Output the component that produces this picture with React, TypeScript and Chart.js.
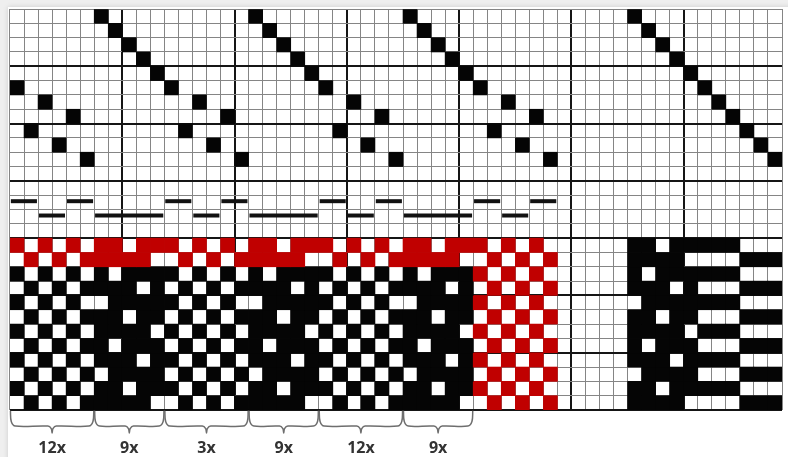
import React, { useEffect, useRef } from "react";
import { Chart, registerables } from "chart.js";

Chart.register(...registerables);

const NUM_COLS = 55;
const NUM_ROWS = 28;

// Threading: row of the filled square for warp columns 0..38
const THREADING = [
  5, 8, 6, 9, 7, 10, 0, 1, 2, 3, 4, 5, 8, 6, 9, 7, 10, 0, 1, 2, 3, 4,
  5, 8, 6, 9, 7, 10, 0, 1, 2, 3, 4, 5, 8, 6, 9, 7, 10,
];

// Tie-up diagonal on the right: first column and row for each column
const TIEUP_FIRST_COL = 44;
const TIEUP_ROWS = [0, 1, 2, 3, 4, 5, 6, 7, 8, 9, 10];

// Drawdown (columns 0..38), rows 16..27. X = black, R = red, . = white
const DRAWDOWN_FIRST_ROW = 16;
const DRAWDOWN = [
  "R.R.R. RR.RR R.R.R. RR.RR R.R.R. RR.RR R.R.R.",
  ".R.R.R RRRR. .R.R.R RRRR. .R.R.R RRRR. .R.R.R",
  "X.X.X. X.XXX X.X.X. X.XXX X.X.X. X.XXX R.R.R.",
  ".X.X.X XXX.X .X.X.X XXX.X .X.X.X XXX.X .R.R.R",
  "X.X.X. .XXXX X.X.X. .XXXX X.X.X. .XXXX R.R.R.",
  ".X.X.X XX.XX .X.X.X XX.XX .X.X.X XX.XX .R.R.R",
  "X.X.X. XXXX. X.X.X. XXXX. X.X.X. XXXX. R.R.R.",
  ".X.X.X X.XXX .X.X.X X.XXX .X.X.X X.XXX .R.R.R",
  "X.X.X. XXX.X X.X.X. XXX.X X.X.X. XXX.X R.R.R.",
  ".X.X.X .XXXX .X.X.X .XXXX .X.X.X .XXXX .R.R.R",
  "X.X.X. XX.XX X.X.X. XX.XX X.X.X. XX.XX R.R.R.",
  ".X.X.X XXXX. .X.X.X XXXX. .X.X.X XXXX. .R.R.R",
];

// Lift plan (columns 44..54), rows 16..27
const LIFTPLAN_FIRST_COL = 44;
const LIFTPLAN = [
  "XX.XX XXX ...",
  "XXXX. ... XXX",
  "X.XXX XXX ...",
  "XXX.X ... XXX",
  ".XXXX XXX ...",
  "XX.XX ... XXX",
  "XXXX. XXX ...",
  "X.XXX ... XXX",
  "XXX.X XXX ...",
  ".XXXX ... XXX",
  "XX.XX XXX ...",
  "XXXX. ... XXX",
];

// Weft bars (rows 13/14), from column to column
const WEFT_ROW = [13, 14, 13, 14, 13, 14, 13, 14, 13, 14, 13, 14, 13, 14, 13];
const WEFT_FROM = [0, 2, 4, 6, 11, 13, 15, 17, 22, 24, 26, 28, 33, 35, 37];
const WEFT_TO = [2, 4, 6, 11, 13, 15, 17, 22, 24, 26, 28, 33, 35, 37, 39];

// Repeat brackets under the drawdown
const REPEAT_BOUNDS = [0, 6, 11, 17, 22, 28, 33];
const REPEAT_LABELS = ["12x", "9x", "3x", "9x", "12x", "9x"];

const BLACK = "#050505";
const RED = "#c00000";
const THIN = "#858585";
const BOLD = "#151515";

const COL_LABELS = Array.from({ length: NUM_COLS }, (_, i) => String(i));

function buildGrid(): (string | null)[][] {
  const grid: (string | null)[][] = Array.from({ length: NUM_ROWS }, () =>
    Array.from({ length: NUM_COLS }, () => null)
  );
  THREADING.forEach((r, c) => {
    grid[r][c] = "X";
  });
  TIEUP_ROWS.forEach((r, i) => {
    grid[r][TIEUP_FIRST_COL + i] = "X";
  });
  DRAWDOWN.forEach((s, i) => {
    const cells = s.replace(/\s/g, "");
    for (let c = 0; c < cells.length; c++) {
      if (cells[c] !== ".") grid[DRAWDOWN_FIRST_ROW + i][c] = cells[c];
    }
  });
  LIFTPLAN.forEach((s, i) => {
    const cells = s.replace(/\s/g, "");
    for (let c = 0; c < cells.length; c++) {
      if (cells[c] !== ".") grid[DRAWDOWN_FIRST_ROW + i][LIFTPLAN_FIRST_COL + c] = cells[c];
    }
  });
  return grid;
}

const labelPlugin = {
  id: "repeatLabels",
  afterDatasetsDraw(chart: any) {
    const xs = chart.scales.x2;
    const ys = chart.scales.y;
    const ctx = chart.ctx;
    ctx.save();
    ctx.font = 'bold 16px "Open Sans", sans-serif';
    ctx.fillStyle = "#333333";
    ctx.textAlign = "center";
    ctx.textBaseline = "middle";
    REPEAT_LABELS.forEach((label, i) => {
      const mid = (REPEAT_BOUNDS[i] + REPEAT_BOUNDS[i + 1]) / 2;
      ctx.fillText(label, xs.getPixelForValue(mid), ys.getPixelForValue(30.7));
    });
    ctx.restore();
  },
};

export default function App() {
  const ref = useRef<HTMLCanvasElement | null>(null);

  useEffect(() => {
    if (!ref.current) return;
    const grid = buildGrid();

    const cellSets: any[] = [];
    grid.forEach((row, r) => {
      if (row.every((c) => c === null)) return;
      cellSets.push({
        type: "bar",
        data: row.map((c) => (c ? [r, r + 1] : null)),
        backgroundColor: row.map((c) => (c === "R" ? RED : BLACK)),
        borderWidth: 0,
        grouped: false,
        categoryPercentage: 1,
        barPercentage: 1,
        xAxisID: "x",
        yAxisID: "y",
        order: 3,
      });
    });

    const weftSets = WEFT_ROW.map((r, i) => ({
      type: "line",
      data: [
        { x: WEFT_FROM[i] + 0.06, y: r + 0.42 },
        { x: WEFT_TO[i] - 0.08, y: r + 0.42 },
      ],
      borderColor: "#111111",
      borderWidth: 4,
      borderCapStyle: "butt",
      pointRadius: 0,
      xAxisID: "x2",
      yAxisID: "y",
      order: 1,
    }));

    const bracketSets = REPEAT_LABELS.map((_, i) => {
      const x0 = REPEAT_BOUNDS[i] + 0.03;
      const x1 = REPEAT_BOUNDS[i + 1] - 0.03;
      const mid = (REPEAT_BOUNDS[i] + REPEAT_BOUNDS[i + 1]) / 2;
      return {
        type: "line",
        data: [
          { x: x0, y: 28.05 },
          { x: x0 + 0.06, y: 28.8 },
          { x: x0 + 0.35, y: 29.12 },
          { x: mid - 0.3, y: 29.12 },
          { x: mid - 0.06, y: 29.3 },
          { x: mid, y: 29.6 },
          { x: mid + 0.06, y: 29.3 },
          { x: mid + 0.3, y: 29.12 },
          { x: x1 - 0.35, y: 29.12 },
          { x: x1 - 0.06, y: 28.8 },
          { x: x1, y: 28.05 },
        ],
        borderColor: "#6e6e6e",
        borderWidth: 1.5,
        tension: 0.35,
        pointRadius: 0,
        clip: false,
        xAxisID: "x2",
        yAxisID: "y",
        order: 1,
      };
    });

    const chart = new Chart(ref.current, {
      type: "bar",
      data: {
        labels: COL_LABELS,
        datasets: [...cellSets, ...weftSets, ...bracketSets] as any,
      },
      options: {
        animation: false,
        responsive: true,
        maintainAspectRatio: false,
        layout: { padding: { left: 10, right: 6, top: 9, bottom: 47 } },
        plugins: { legend: { display: false }, tooltip: { enabled: false } },
        scales: {
          x: {
            type: "category",
            position: "bottom",
            offset: true,
            border: { display: false },
            ticks: { display: false, autoSkip: false },
            grid: {
              offset: true,
              drawTicks: false,
              color: (ctx: any) =>
                typeof ctx.index === "number" && ctx.index > 0 && ctx.index % 8 === 0 ? BOLD : THIN,
              lineWidth: (ctx: any) =>
                typeof ctx.index === "number" && ctx.index > 0 && ctx.index % 8 === 0 ? 2 : 1,
            },
          },
          x2: {
            type: "linear",
            position: "bottom",
            min: 0,
            max: NUM_COLS,
            offset: false,
            display: true,
            border: { display: false },
            ticks: { display: false },
            grid: { display: false, drawTicks: false },
          },
          y: {
            type: "linear",
            reverse: true,
            min: 0,
            max: NUM_ROWS,
            border: { display: false },
            ticks: { display: false, stepSize: 1 },
            grid: {
              drawTicks: false,
              color: (ctx: any) =>
                ctx.tick && ctx.tick.value > 0 && ctx.tick.value % 4 === 0 ? BOLD : THIN,
              lineWidth: (ctx: any) =>
                ctx.tick && ctx.tick.value > 0 && ctx.tick.value % 4 === 0 ? 2 : 1,
            },
          },
        },
      } as any,
      plugins: [labelPlugin],
    });
    return () => chart.destroy();
  }, []);

  return (
    <div
      style={{
        position: "absolute",
        left: 0,
        top: 0,
        width: 788,
        height: 457,
        background: "#efefef",
        overflow: "hidden",
      }}
    >
      <div
        style={{
          position: "absolute",
          left: 8,
          top: 7,
          width: 800,
          height: 470,
          background: "#ffffff",
          boxShadow: "0 0 5px rgba(0,0,0,0.15)",
        }}
      />
      <div style={{ position: "absolute", left: 0, top: 0, width: 788, height: 457 }}>
        <canvas ref={ref} />
      </div>
    </div>
  );
}
